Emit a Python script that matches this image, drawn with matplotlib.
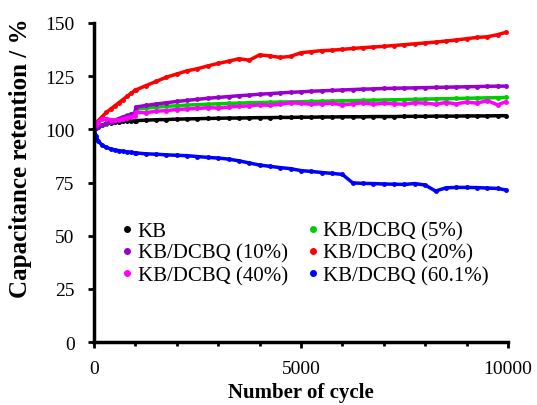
import matplotlib
matplotlib.use("Agg")
import matplotlib.pyplot as plt
from matplotlib.lines import Line2D
from matplotlib.ticker import MultipleLocator

plt.rcParams['font.family'] = ['Liberation Serif', 'DejaVu Serif']

cycles = [0, 50, 100, 200, 300, 400, 500, 600, 700, 800, 900, 990, 1010,
          1250, 1500, 1750, 2000, 2250, 2500, 2750, 3000, 3250, 3500, 3750,
          4000, 4250, 4500, 4750, 5000, 5250, 5500, 5750, 6000, 6250, 6500,
          6750, 7000, 7250, 7500, 7750, 8000, 8250, 8500, 8750, 9000, 9250,
          9500, 9750, 9950]

kb = [100, 100.8, 101.3, 102, 102.5, 103, 103.3, 103.5, 103.7, 103.9, 104, 104.1, 104.1,
      104.3, 104.5, 104.6, 104.8, 104.9, 105, 105.1, 105.2, 105.3, 105.3, 105.4,
      105.5, 105.5, 105.6, 105.6, 105.7, 105.7, 105.8, 105.8, 105.9, 105.9, 105.9,
      106, 106, 106, 106.1, 106.1, 106.1, 106.2, 106.2, 106.2, 106.3, 106.3,
      106.3, 106.4, 106.4]
dcbq5 = [100, 100.5, 101, 101.8, 102.6, 103.4, 104.2, 105, 105.8, 106.5, 107.2, 107.8, 109.5,
         110, 110.4, 110.8, 111.1, 111.4, 111.6, 111.8, 112, 112.2, 112.3, 112.5,
         112.6, 112.7, 112.8, 112.9, 113, 113.1, 113.2, 113.3, 113.4, 113.5, 113.6,
         113.7, 113.8, 113.9, 114, 114.1, 114.2, 114.3, 114.4, 114.5, 114.6, 114.7,
         114.8, 114.9, 115]
dcbq10 = [100, 100.6, 101.2, 102, 102.8, 103.6, 104.3, 105, 105.7, 106.4, 107, 107.6, 110.5,
          111.2, 111.9, 112.5, 113.1, 113.6, 114.1, 114.6, 115, 115.4, 115.8, 116.1,
          116.5, 116.8, 117.1, 117.4, 117.6, 117.9, 118.1, 118.3, 118.5, 118.7, 118.9,
          119, 119.2, 119.3, 119.4, 119.5, 119.6, 119.7, 119.8, 119.9, 120, 120.1,
          120.2, 120.3, 120.3]
dcbq20 = [100, 102, 104, 106, 108, 109.5, 111, 112.5, 114, 115.5, 117, 118.3, 118.5,
          120.5, 122.5, 124.5, 126, 127.5, 128.5, 129.8, 131, 132, 133.2, 132.5,
          135, 134.5, 133.8, 134.3, 136, 136.5, 137, 137.2, 137.6, 138, 138.4,
          138.7, 139, 139.4, 139.8, 140.2, 140.6, 141, 141.5, 142, 142.6, 143.2,
          143.5, 144.5, 145.6]
dcbq40 = [100, 102, 103.5, 104.8, 105, 104.6, 104.3, 104.5, 105, 105.5, 106, 106.4, 108,
          107.8, 108.5, 108.8, 109.3, 109.6, 109.8, 110.2, 110, 110.5, 110.8, 111,
          111.5, 111.3, 111.8, 112.5, 112.2, 111.8, 112, 112.3, 111.5, 112, 112.5,
          111.8, 112.3, 112, 111.8, 112.5, 112.3, 111.8, 112.6, 112, 112.8, 112.3,
          113.5, 111.5, 113]
dcbq60 = [100, 97, 94.5, 92.5, 91.5, 90.8, 90.3, 90, 89.7, 89.4, 89.2, 89, 88.9,
          88.5, 88.3, 88, 87.8, 87.6, 87.2, 86.8, 86.5, 86, 85.2, 84.2,
          83.2, 82.6, 82, 81.5, 80.6, 80.2, 79.7, 79.3, 78.8, 74.8, 74.6,
          74.5, 74.3, 74.2, 74.1, 74.5, 73.8, 71, 72.5, 72.7, 72.7, 72.6,
          72.4, 72.2, 71.5]

series = [
    ("KB", kb, "black"),
    ("KB/DCBQ (5%)", dcbq5, "#00cc00"),
    ("KB/DCBQ (10%)", dcbq10, "#9900cc"),
    ("KB/DCBQ (20%)", dcbq20, "red"),
    ("KB/DCBQ (40%)", dcbq40, "magenta"),
    ("KB/DCBQ (60.1%)", dcbq60, "#0000ff"),
]

fig = plt.figure(figsize=(5.37, 4.06), dpi=100)
ax = fig.add_axes([0.175, 0.155, 0.771, 0.786])

for name, vals, col in series:
    ax.plot(cycles, vals, color=col, lw=2.5, marker='o', ms=2.5, solid_capstyle='round')

ax.set_xlim(0, 10000)
ax.set_ylim(0, 150)
ax.xaxis.set_major_locator(MultipleLocator(5000))
ax.xaxis.set_minor_locator(MultipleLocator(1000))
ax.yaxis.set_major_locator(MultipleLocator(25))
ax.tick_params(which='both', direction='out', width=2, labelsize=14)
ax.tick_params(axis='y', which='major', length=4.5, pad=9.5)
ax.tick_params(axis='x', which='major', length=4, pad=9)
ax.tick_params(axis='x', which='minor', length=3)
for s in ['top', 'right']:
    ax.spines[s].set_visible(False)
for s in ['left', 'bottom']:
    ax.spines[s].set_linewidth(2.5)

ax.set_xlabel("Number of cycle", fontsize=15, fontweight='bold')
ax.xaxis.set_label_coords(0.5, -0.125)
ax.set_ylabel("Capacitance retention / %", fontsize=18, fontweight='bold')
ax.yaxis.set_label_coords(-0.15, 0.58)

# legend in row order: KB, 5%, 10%, 20%, 40%, 60.1% (filled column-wise)
order = [0, 2, 4, 1, 3, 5]
handles = [Line2D([], [], ls='none', marker='o', ms=4, color=series[i][2]) for i in order]
labels = [series[i][0] for i in order]
ax.legend(handles, labels, ncol=2, frameon=False, fontsize=15,
          loc='lower left', bbox_to_anchor=(0.02, 0.12),
          handlelength=0.6, handletextpad=0.2, labelspacing=0.12, columnspacing=0.9)

fig.savefig("out.png", dpi=100)
